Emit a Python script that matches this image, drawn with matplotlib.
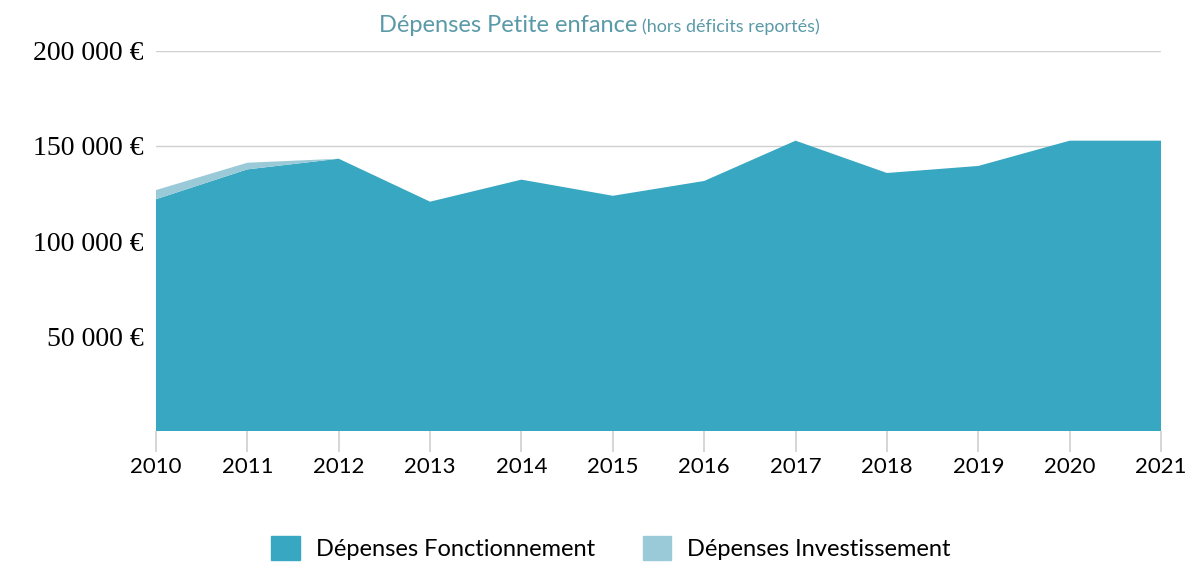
import matplotlib.pyplot as plt
from matplotlib.patches import Patch

years = [2010, 2011, 2012, 2013, 2014, 2015, 2016, 2017, 2018, 2019, 2020, 2021]
fonctionnement = [122000, 137700, 143300, 120700, 132300, 123800,
                  131600, 152800, 135800, 139500, 152800, 152800]
investissement = [4800, 3500, 0, 0, 0, 0, 0, 0, 0, 0, 0, 0]
y_ticks = [50000, 100000, 150000, 200000]
y_labels = ['50 000 €', '100 000 €', '150 000 €', '200 000 €']

dark = '#38a7c1'
light = '#9acad8'

fig = plt.figure(figsize=(11.89, 5.66), dpi=100)
ax = fig.add_axes([0.1312, 0.2385, 0.8453, 0.6714])

ax.stackplot(years, fonctionnement, investissement, colors=[dark, light],
             linewidth=0)

ax.set_xlim(years[0], years[-1])
ax.set_ylim(0, 200000)
ax.set_axisbelow(True)
ax.grid(axis='y', color='#d0d0d0', lw=1)

ax.set_yticks(y_ticks)
ax.set_yticklabels(y_labels, fontfamily='Liberation Serif', fontsize=20)
ax.tick_params(axis='y', length=0, pad=9)

ax.set_xticks(years)
ax.set_xticklabels([str(y) for y in years], fontfamily='Lato', fontsize=16)
ax.tick_params(axis='x', length=15, color='#d0d0d0', width=1.2, pad=4)

for s in ax.spines.values():
    s.set_visible(False)

fig.text(0.536, 0.955, 'Dépenses Petite enfance', color='#5a9aa8',
         fontfamily='Lato', fontsize=17, ha='right', va='center')
fig.text(0.540, 0.952, '(hors déficits reportés)', color='#5a9aa8',
         fontfamily='Lato', fontsize=13, ha='left', va='center')

handles = [Patch(color=dark), Patch(color=light)]
fig.legend(handles, ['Dépenses Fonctionnement', 'Dépenses Investissement'],
           loc='center', bbox_to_anchor=(0.514, 0.032), ncol=2, frameon=False,
           prop={'family': 'Lato', 'size': 17}, handlelength=1.2,
           handleheight=1.2, columnspacing=2.0, handletextpad=0.7)

fig.savefig('out.png', dpi=100)
